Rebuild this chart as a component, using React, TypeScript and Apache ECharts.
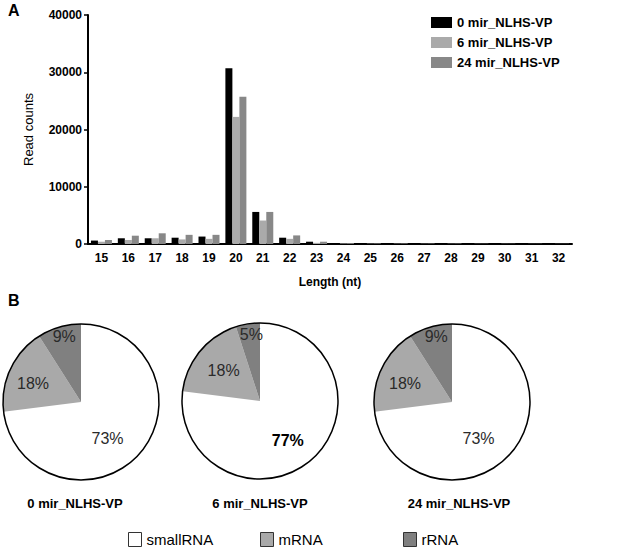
import React, { useEffect, useRef } from "react";
import * as echarts from "echarts";

const lengths = ["15","16","17","18","19","20","21","22","23","24","25","26","27","28","29","30","31","32"];
const seriesNames = ["0 mir_NLHS-VP", "6 mir_NLHS-VP", "24 mir_NLHS-VP"];
const reads0 = [600, 1000, 1000, 1100, 1300, 30700, 5600, 1100, 400, 150, 100, 100, 80, 80, 50, 50, 50, 50];
const reads6 = [400, 700, 1000, 800, 900, 22200, 4100, 900, 200, 100, 60, 60, 50, 50, 40, 40, 30, 30];
const reads24 = [700, 1450, 1870, 1600, 1600, 25700, 5600, 1500, 400, 150, 100, 100, 80, 80, 50, 50, 40, 40];
const yTicks = [0, 10000, 20000, 30000, 40000];

const rnaTypes = ["smallRNA", "mRNA", "rRNA"];
const pie0 = [73, 18, 9];
const pie6 = [77, 18, 5];
const pie24 = [73, 18, 9];

const FONT = "'Liberation Sans', Arial, sans-serif";
const barColors = ["#000000", "#aaaaaa", "#888888"];
const pieColors = ["#ffffff", "#a9a9a9", "#808080"];

export default function App() {
  const ref = useRef<HTMLDivElement>(null);
  useEffect(() => {
    if (!ref.current) return;
    const chart = echarts.init(ref.current, undefined, { renderer: "svg" });
    const barData = [reads0, reads6, reads24];
    const pies = [pie0, pie6, pie24];
    const pieCenters = [[81, 402], [260, 401], [452, 402]];
    const captionX = [75, 260, 459];
    const R = 78;
    const labelOffsets = [
      [[-5, 9], [-10, -1], [-5, -25]],
      [[0, 8], [-4, -4], [-2, -25]],
      [[-5, 9], [-9, -1], [-4, -25]],
    ];

    const barSeries = barData.map((d, i) => ({
      name: seriesNames[i],
      type: "bar",
      data: d,
      barWidth: 7,
      barGap: "0%",
      itemStyle: { color: barColors[i] },
    }));

    const pieSeries: any[] = pies.map((p, k) => ({
      type: "pie",
      name: seriesNames[k],
      center: pieCenters[k],
      radius: R,
      startAngle: 90,
      clockwise: true,
      silent: true,
      data: p.map((v, j) => ({
        name: rnaTypes[j],
        value: v,
        itemStyle: { color: pieColors[j], borderWidth: 0 },
        label:
          k === 1 && j === 0
            ? { fontWeight: "bold", color: "#000" }
            : undefined,
      })),
      label: {
        show: true,
        position: "inside",
        formatter: "{c}%",
        fontFamily: FONT,
        fontSize: 16,
        color: "#2a2a2a",
      },
      labelLine: { show: false },
      labelLayout: (params: any) => {
        const o = labelOffsets[k][params.dataIndex];
        return { dx: o[0], dy: o[1] };
      },
    }));

    const outlineSeries: any[] = pieCenters.map((c) => ({
      type: "pie",
      name: "outline",
      center: c,
      radius: R,
      silent: true,
      data: [{ name: "outline", value: 1 }],
      itemStyle: { color: "rgba(0,0,0,0)", borderColor: "#000", borderWidth: 1.5 },
      label: { show: false },
      labelLine: { show: false },
      z: 5,
    }));

    const legendX = [128, 260, 403];

    chart.setOption({
      animation: false,
      textStyle: { fontFamily: FONT },
      grid: { left: 88, right: 49, top: 15, bottom: 303, containLabel: false },
      legend: [
        {
          data: seriesNames,
          orient: "vertical",
          left: 426,
          top: 11,
          itemWidth: 21,
          itemHeight: 11,
          itemGap: 7,
          textStyle: { fontFamily: FONT, fontSize: 13, fontWeight: "bold", color: "#000" },
          icon: "rect",
          selectedMode: false,
        },
        ...rnaTypes.map((t, i) => ({
          data: [t],
          left: legendX[i],
          top: 532,
          padding: 0,
          itemWidth: 13,
          itemHeight: 14,
          icon: "rect",
          itemStyle: { borderColor: "#333", borderWidth: 1 },
          textStyle: { fontFamily: FONT, fontSize: 15, color: "#000" },
          selectedMode: false,
        })),
      ],
      xAxis: {
        type: "category",
        data: lengths,
        name: "Length (nt)",
        nameLocation: "middle",
        nameGap: 32,
        nameTextStyle: { fontFamily: FONT, fontSize: 12, fontWeight: "bold", color: "#000" },
        axisLine: { lineStyle: { color: "#000", width: 2 } },
        axisTick: { alignWithLabel: true, length: 4, lineStyle: { color: "#000", width: 1.5 } },
        axisLabel: { fontFamily: FONT, fontSize: 12, fontWeight: "bold", color: "#000", margin: 8 },
      },
      yAxis: {
        type: "value",
        min: yTicks[0],
        max: yTicks[yTicks.length - 1],
        interval: yTicks[1] - yTicks[0],
        name: "Read counts",
        nameLocation: "middle",
        nameGap: 53,
        nameTextStyle: { fontFamily: FONT, fontSize: 13, color: "#000" },
        splitLine: { show: false },
        axisLine: { show: true, lineStyle: { color: "#000", width: 2 } },
        axisTick: { show: true, length: 4, lineStyle: { color: "#000", width: 1.5 } },
        axisLabel: {
          fontFamily: FONT,
          fontSize: 12,
          fontWeight: "bold",
          color: "#000",
          margin: 6,
          formatter: (v: number) => String(v),
        },
      },
      series: [...barSeries, ...pieSeries, ...outlineSeries],
      graphic: [
        {
          type: "text",
          left: 8,
          top: 2,
          style: { text: "A", fontFamily: FONT, fontSize: 16, fontWeight: "bold", fill: "#000" },
        },
        {
          type: "text",
          left: 8,
          top: 292,
          style: { text: "B", fontFamily: FONT, fontSize: 16, fontWeight: "bold", fill: "#000" },
        },
        ...seriesNames.map((n, i) => ({
          type: "text",
          x: captionX[i],
          y: 503,
          style: {
            text: n,
            fontFamily: FONT,
            fontSize: 13,
            fontWeight: "bold",
            fill: "#000",
            align: "center",
            verticalAlign: "middle",
          },
        })),
      ],
    });
    return () => chart.dispose();
  }, []);
  return (
    <div
      ref={ref}
      style={{ position: "absolute", left: 0, top: 0, width: 621, height: 547, background: "#fff" }}
    />
  );
}
